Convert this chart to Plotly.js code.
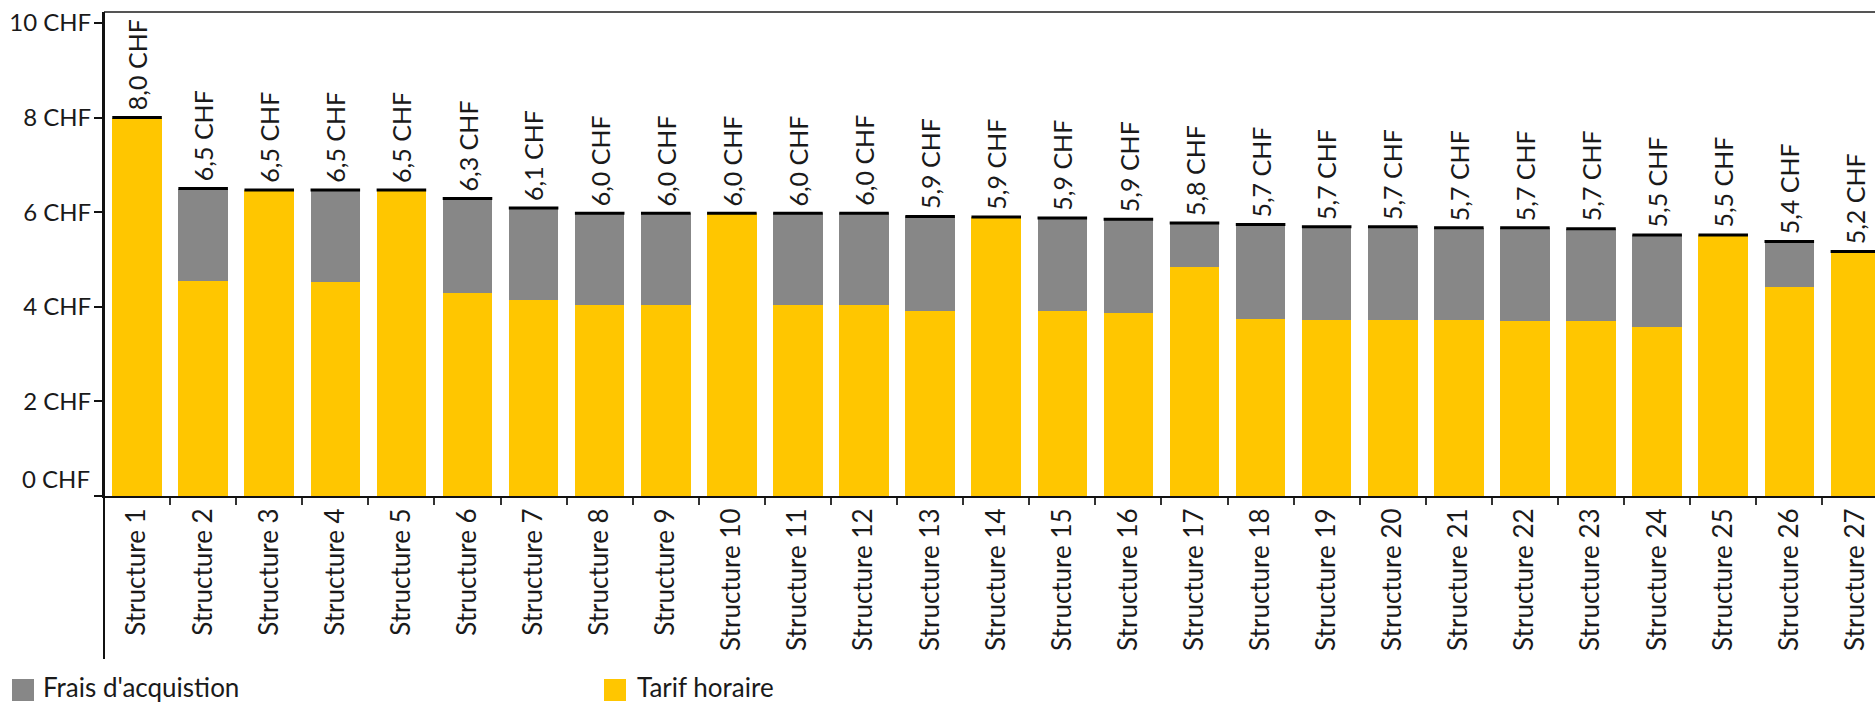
<!DOCTYPE html>
<html><head><meta charset="utf-8">
<script src="https://cdn.plot.ly/plotly-3.0.1.min.js"></script>
<style>html,body{margin:0;padding:0;overflow:hidden;background:#fff}#chart{width:1875px;height:704px}</style>
</head><body><div id="chart"></div>
<script>
const categories = ["Structure 1","Structure 2","Structure 3","Structure 4","Structure 5","Structure 6","Structure 7","Structure 8","Structure 9","Structure 10","Structure 11","Structure 12","Structure 13","Structure 14","Structure 15","Structure 16","Structure 17","Structure 18","Structure 19","Structure 20","Structure 21","Structure 22","Structure 23","Structure 24","Structure 25","Structure 26","Structure 27"];
const tarifHoraire = [8.00, 4.55, 6.47, 4.52, 6.47, 4.30, 4.14, 4.03, 4.03, 5.98, 4.03, 4.03, 3.92, 5.90, 3.92, 3.87, 4.84, 3.74, 3.72, 3.72, 3.72, 3.71, 3.69, 3.57, 5.52, 4.41, 5.17];
const fraisAcquisition = [0, 1.95, 0, 1.95, 0, 1.99, 1.95, 1.95, 1.95, 0, 1.95, 1.95, 1.99, 0, 1.96, 1.98, 0.93, 2.00, 1.97, 1.97, 1.95, 1.96, 1.96, 1.95, 0, 0.97, 0];
const totalLabels = [8.0, 6.5, 6.5, 6.5, 6.5, 6.3, 6.1, 6.0, 6.0, 6.0, 6.0, 6.0, 5.9, 5.9, 5.9, 5.9, 5.8, 5.7, 5.7, 5.7, 5.7, 5.7, 5.7, 5.5, 5.5, 5.4, 5.2];
const seriesNames = ["Frais d'acquistion", "Tarif horaire"];
const seriesColors = ["#878787", "#FFC600"];
const yTickVals = [0, 2, 4, 6, 8, 10];
const yTickText = ["0 CHF", "2 CHF", "4 CHF", "6 CHF", "8 CHF", "10 CHF"];

const W = 1875, H = 704, L = 104, T = 12, B = 208;
const plotW = W - L, plotH = H - T - B;
const catPx = 66.09, pxPerUnit = 47.3;
const yMax = plotH / pxPerUnit;
const xMax = -0.5 + plotW / catPx;
const px2x = px => (px - L) / plotW;
const px2y = py => (H - B - py) / plotH;
const FONT = 'Lato, "Open Sans", sans-serif';
const TXT = '#1a1a1a';
const totals = tarifHoraire.map((v, i) => v + fraisAcquisition[i]);

const traces = [
  {type: 'bar', name: seriesNames[1], x: categories, y: tarifHoraire,
   marker: {color: seriesColors[1], line: {width: 0}}, hoverinfo: 'skip', showlegend: false},
  {type: 'bar', name: seriesNames[0], x: categories, y: fraisAcquisition,
   marker: {color: seriesColors[0], line: {width: 0}}, hoverinfo: 'skip', showlegend: false},
  {type: 'scatter', mode: 'markers', x: categories, y: totals, showlegend: false, hoverinfo: 'skip',
   marker: {symbol: 'line-ew', size: 35.4, color: '#000', line: {width: 3, color: '#000'}}, cliponaxis: true}
];

const annotations = categories.map((c, i) => ({
  x: c, y: totals[i], xref: 'x', yref: 'y',
  text: totalLabels[i].toFixed(1).replace('.', ',') + ' CHF',
  textangle: -90, showarrow: false, xanchor: 'center', yanchor: 'bottom', yshift: 5,
  font: {family: FONT, size: 25, color: TXT}
}));
annotations.push({
  xref: 'paper', yref: 'y', x: 0, y: yTickVals[0], xanchor: 'right', yanchor: 'middle',
  xshift: -12, yshift: 18, showarrow: false, text: yTickText[0],
  font: {family: FONT, size: 24, color: TXT}
});
const legendPos = [{sx: 12, tx: 42}, {sx: 604, tx: 636}];
const shapes = [
  {type: 'line', xref: 'paper', yref: 'paper', x0: 0, x1: 1, y0: 1, y1: 1, line: {color: '#555', width: 2}},
  {type: 'line', xref: 'paper', yref: 'paper', x0: 0, x1: 0, y0: 1, y1: px2y(659), line: {color: '#111', width: 2}}
];
seriesNames.forEach((n, i) => {
  const p = legendPos[i];
  shapes.push({type: 'rect', xref: 'paper', yref: 'paper', x0: px2x(p.sx), x1: px2x(p.sx + 22),
    y0: px2y(679), y1: px2y(701), fillcolor: seriesColors[i], line: {width: 0}});
  annotations.push({xref: 'paper', yref: 'paper', x: px2x(p.tx), y: px2y(687), xanchor: 'left', yanchor: 'middle',
    borderpad: 0, showarrow: false, text: n, font: {family: FONT, size: 26, color: TXT}});
});

const layout = {
  width: W, height: H, margin: {l: L, r: 0, t: T, b: B, pad: 0},
  paper_bgcolor: '#fff', plot_bgcolor: '#fff',
  barmode: 'stack', bargap: 0.25, showlegend: false,
  font: {family: FONT, size: 24, color: TXT},
  xaxis: {type: 'category', range: [-0.5, xMax], tickangle: -90, ticks: 'outside', tickson: 'boundaries',
    ticklen: 7, tickwidth: 2, tickcolor: '#333', showline: true, linecolor: '#111', linewidth: 2,
    showgrid: false, zeroline: false, tickfont: {family: FONT, size: 26, color: TXT}, fixedrange: true},
  yaxis: {range: [0, yMax], tickvals: yTickVals, ticktext: yTickText.map((t, i) => i === 0 ? '' : t),
    ticks: 'outside', ticklen: 8, tickwidth: 2, tickcolor: '#111', showline: true, linecolor: '#111', linewidth: 2,
    ticklabelstandoff: -2,
    showgrid: false, zeroline: false, tickfont: {family: FONT, size: 24, color: TXT}, fixedrange: true},
  annotations: annotations, shapes: shapes
};
Plotly.newPlot('chart', traces, layout, {displayModeBar: false, staticPlot: true});
</script></body></html>
